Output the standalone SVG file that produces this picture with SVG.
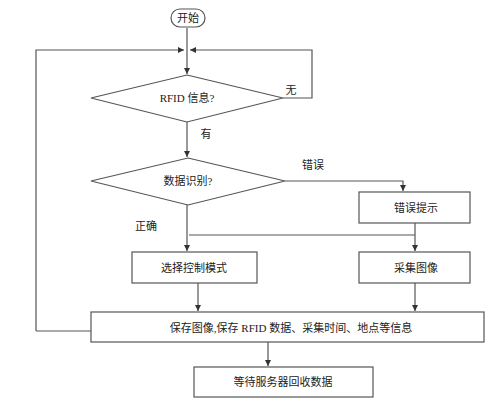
<svg xmlns="http://www.w3.org/2000/svg" width="498" height="402" viewBox="0 0 498 402">
<defs>
<marker id="ah" viewBox="0 0 10 10" refX="10" refY="5" markerWidth="6" markerHeight="6" orient="auto" markerUnits="userSpaceOnUse">
<path d="M0,0 L10,5 L0,10 z" fill="#333"/>
</marker>
</defs>
<style>
.s{fill:#fff;stroke:#555;stroke-width:1.2}
.c{fill:none;stroke:#555;stroke-width:1.2}
.t{font-family:"Liberation Serif","Noto Sans CJK SC",serif;font-size:11px;fill:#222;text-anchor:middle;dominant-baseline:central}
</style>
<rect width="498" height="402" fill="#fff"/>
<g id="connectors">
<path class="c" d="M187,28 V74" marker-end="url(#ah)"/>
<path class="c" d="M36,331 H91 M36,331 V50 H184" marker-end="url(#ah)"/>
<path class="c" d="M283,98 H312 V50 H190" marker-end="url(#ah)"/>
<path class="c" d="M187,122 V157" marker-end="url(#ah)"/>
<path class="c" d="M285,181 H403 V191" marker-end="url(#ah)"/>
<path class="c" d="M187,205 V251" marker-end="url(#ah)"/>
<path class="c" d="M415,223 V251" marker-end="url(#ah)"/>
<path class="c" d="M189,235 H415"/>
<path class="c" d="M198,283 V311" marker-end="url(#ah)"/>
<path class="c" d="M415,283 V311" marker-end="url(#ah)"/>
<path class="c" d="M268,342 V366" marker-end="url(#ah)"/>
<text class="t" x="291" y="90">无</text>
<text class="t" x="206" y="134">有</text>
<text class="t" x="313" y="165">错误</text>
<text class="t" x="146" y="226">正确</text>
</g>
<g id="start">
<rect class="s" x="171" y="9" width="34" height="18" rx="9"/>
<text class="t" x="188" y="18">开始</text>
</g>
<g id="rfid">
<polygon class="s" points="187,75 283,98 187,122 91,98"/>
<text class="t" x="187" y="98">RFID 信息?</text>
</g>
<g id="recog">
<polygon class="s" points="188,158 285,181 188,205 91,181"/>
<text class="t" x="188" y="181">数据识别?</text>
</g>
<g id="error">
<rect class="s" x="359" y="192" width="111" height="31"/>
<text class="t" x="416" y="208">错误提示</text>
</g>
<g id="mode">
<rect class="s" x="132" y="252" width="125" height="31"/>
<text class="t" x="194" y="268">选择控制模式</text>
</g>
<g id="capture">
<rect class="s" x="359" y="252" width="111" height="31"/>
<text class="t" x="416" y="268">采集图像</text>
</g>
<g id="save">
<rect class="s" x="91" y="312" width="393" height="30"/>
<text class="t" x="291" y="328">保存图像,保存 RFID 数据、采集时间、地点等信息</text>
</g>
<g id="wait">
<rect class="s" x="194" y="367" width="179" height="30"/>
<text class="t" x="283" y="382">等待服务器回收数据</text>
</g>
</svg>
